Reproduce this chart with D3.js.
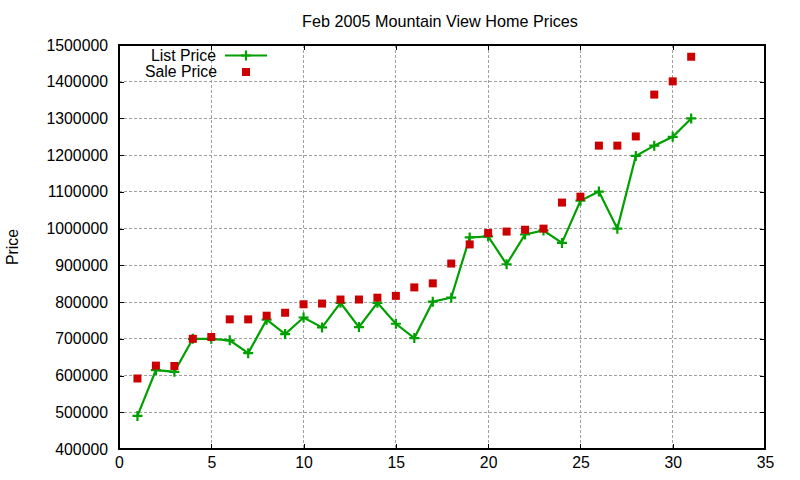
<!DOCTYPE html>
<html>
<head>
<meta charset="utf-8">
<script src="https://cdn.jsdelivr.net/npm/d3@7"></script>
<style>
  body { margin: 0; background: #fff; }
  svg text { font-family: "Liberation Sans", Arial, sans-serif; fill: #000; }
</style>
</head>
<body>
<svg id="chart" width="800" height="480"></svg>
<script>
// data
let days = d3.range(1, 32)
let listPrice = [490000, 615000, 610000, 700000, 700000, 696000, 661000, 752000, 713000, 758000,
  731000, 798000, 732000, 798000, 741000, 702000, 801000, 812000, 976000, 979000,
  903000, 984000, 995000, 961000, 1076000, 1101000, 1000000, 1198000, 1226000, 1250000, 1300000]
let salePrice = [592000, 627000, 626000, 700000, 705000, 753000, 753000, 763000, 771000, 794000,
  796000, 807000, 807000, 812000, 817000, 840000, 851000, 905000, 957000, 988000,
  992000, 997000, 1000000, 1071000, 1087000, 1226000, 1226000, 1251000, 1365000, 1401000, 1468000]
let xTicks = [0, 5, 10, 15, 20, 25, 30, 35]
let yTicks = d3.range(400000, 1500001, 100000)
let chartTitle = 'Feb 2005 Mountain View Home Prices'
let yTitle = 'Price'
let seriesNames = ['List Price', 'Sale Price']

let green = '#00a000'
let red = '#cc0000'
let fontSize = 15.8
let plotLeft = 119, plotRight = 765, plotTop = 45, plotBottom = 449

let svg = d3.select('#chart')

let x = d3.scaleLinear().domain([0, 35]).range([plotLeft, plotRight])
let y = d3.scaleLinear().domain([400000, 1500000]).range([plotBottom, plotTop])

// grid
svg.append('g')
  .selectAll('line')
  .data(xTicks.slice(1, -1))
  .join('line')
  .attr('x1', d => x(d)).attr('x2', d => x(d))
  .attr('y1', plotTop).attr('y2', plotBottom)
  .attr('stroke', '#a0a0a0').attr('stroke-dasharray', '3,2')
  .attr('shape-rendering', 'crispEdges')
svg.append('g')
  .selectAll('line')
  .data(yTicks.slice(1, -1))
  .join('line')
  .attr('x1', plotLeft).attr('x2', plotRight)
  .attr('y1', d => y(d)).attr('y2', d => y(d))
  .attr('stroke', '#a0a0a0').attr('stroke-dasharray', '3,2')
  .attr('shape-rendering', 'crispEdges')

// axes, ticks pointing inwards, mirrored
svg.append('g').attr('transform', `translate(0,${plotBottom})`)
  .call(d3.axisBottom(x).tickValues(xTicks).tickSize(-5).tickPadding(8).tickFormat(d3.format('d')))
svg.append('g').attr('transform', `translate(0,${plotTop})`)
  .call(d3.axisTop(x).tickValues(xTicks).tickSize(-5).tickFormat(''))
svg.append('g').attr('transform', `translate(${plotLeft},0)`)
  .call(d3.axisLeft(y).tickValues(yTicks).tickSize(-5).tickPadding(11).tickFormat(d3.format('d')))
svg.append('g').attr('transform', `translate(${plotRight},0)`)
  .call(d3.axisRight(y).tickValues(yTicks).tickSize(-5).tickFormat(''))

svg.selectAll('.domain').remove()
svg.selectAll('.tick line').attr('stroke', '#000').attr('shape-rendering', 'crispEdges')
svg.selectAll('.tick text').attr('font-size', fontSize).attr('font-family', '"Liberation Sans", Arial, sans-serif')

svg.append('rect')
  .attr('x', plotLeft).attr('y', plotTop)
  .attr('width', plotRight - plotLeft).attr('height', plotBottom - plotTop)
  .attr('fill', 'none').attr('stroke', '#000').attr('stroke-width', 1.2)
  .attr('shape-rendering', 'crispEdges')

// list price line with + markers
let line = d3.line().x((d, i) => x(days[i])).y(d => y(d))
svg.append('path')
  .datum(listPrice)
  .attr('d', line)
  .attr('fill', 'none').attr('stroke', green).attr('stroke-width', 2.2)

function plusPath(cx, cy, r) {
  return `M${cx - r},${cy}H${cx + r}M${cx},${cy - r}V${cy + r}`
}
svg.append('g')
  .selectAll('path')
  .data(listPrice)
  .join('path')
  .attr('d', (d, i) => plusPath(x(days[i]), y(d), 5))
  .attr('stroke', green).attr('stroke-width', 2.2).attr('fill', 'none')

// sale price squares
let sq = 8
svg.append('g')
  .selectAll('rect')
  .data(salePrice)
  .join('rect')
  .attr('x', (d, i) => x(days[i]) - sq / 2)
  .attr('y', d => y(d) - sq / 2)
  .attr('width', sq).attr('height', sq)
  .attr('fill', red)

// legend
let legend = svg.append('g')
legend.append('text')
  .attr('x', 216).attr('y', 55).attr('dy', '0.35em')
  .attr('text-anchor', 'end').attr('font-size', fontSize)
  .text(seriesNames[0])
legend.append('line')
  .attr('x1', 225).attr('x2', 267).attr('y1', 55.5).attr('y2', 55.5)
  .attr('stroke', green).attr('stroke-width', 2.2)
legend.append('path')
  .attr('d', plusPath(246, 55.5, 5))
  .attr('stroke', green).attr('stroke-width', 2.2)
legend.append('text')
  .attr('x', 217).attr('y', 71).attr('dy', '0.35em')
  .attr('text-anchor', 'end').attr('font-size', fontSize)
  .text(seriesNames[1])
legend.append('rect')
  .attr('x', 246 - sq / 2).attr('y', 72 - sq / 2)
  .attr('width', sq).attr('height', sq)
  .attr('fill', red)

// titles
svg.append('text')
  .attr('x', 440).attr('y', 21.5).attr('dy', '0.35em')
  .attr('text-anchor', 'middle').attr('font-size', 16.2)
  .text(chartTitle)
svg.append('text')
  .attr('transform', 'translate(12,247) rotate(-90)')
  .attr('dy', '0.35em')
  .attr('text-anchor', 'middle').attr('font-size', fontSize)
  .text(yTitle)
</script>
</body>
</html>
